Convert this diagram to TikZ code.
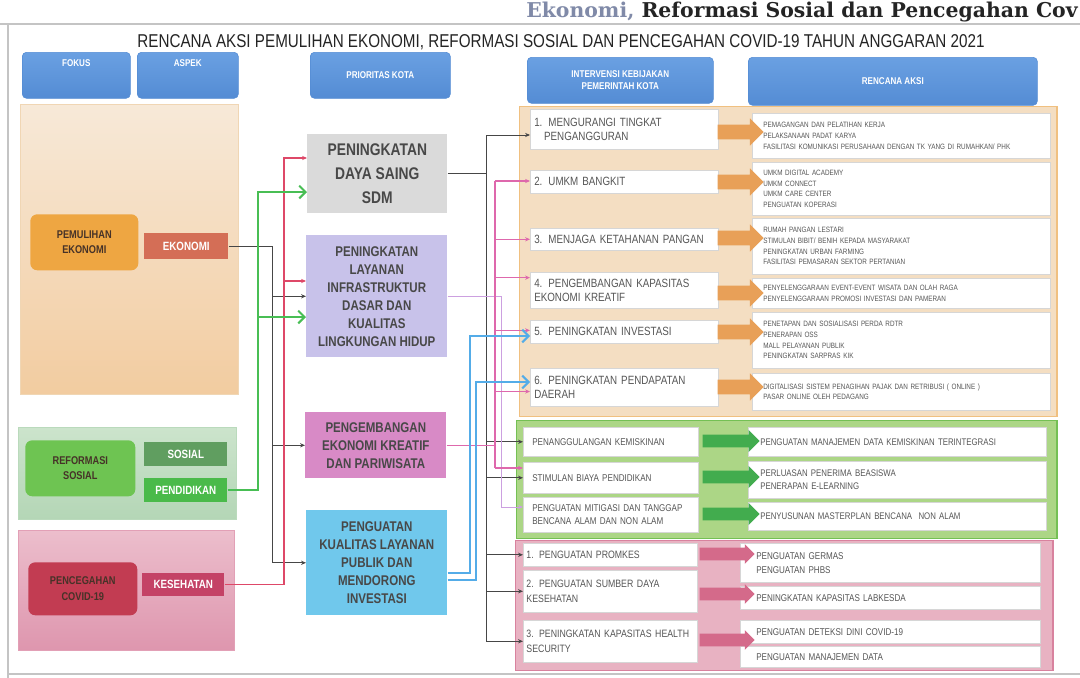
\documentclass[tikz,border=0pt]{standalone}
\usepackage{fontspec}
\setmainfont{Liberation Sans}
\newfontfamily\narrowfont[FakeStretch=0.82]{Liberation Sans}
\newfontfamily\serifhead{DejaVu Serif}
\usetikzlibrary{shapes.arrows,arrows.meta}

\definecolor{hdrBlue}{RGB}{84,140,212}
\definecolor{hdrBlueTop}{RGB}{106,160,226}
\definecolor{pemTop}{RGB}{247,233,216}
\definecolor{pemBot}{RGB}{242,204,160}
\definecolor{pemLine}{RGB}{240,214,180}
\definecolor{pemOrange}{RGB}{238,166,66}
\definecolor{ekoRed}{RGB}{212,110,86}
\definecolor{refTop}{RGB}{204,228,204}
\definecolor{refBot}{RGB}{180,214,182}
\definecolor{refLine}{RGB}{186,218,188}
\definecolor{refGreen}{RGB}{110,196,82}
\definecolor{sosGreen}{RGB}{96,158,96}
\definecolor{pendGreen}{RGB}{74,186,74}
\definecolor{covTop}{RGB}{236,190,204}
\definecolor{covBot}{RGB}{222,150,174}
\definecolor{covLine}{RGB}{226,160,182}
\definecolor{covRed}{RGB}{194,60,82}
\definecolor{kesRed}{RGB}{196,66,102}
\definecolor{fokusText}{RGB}{70,50,40}
\definecolor{p1Gray}{RGB}{218,218,218}
\definecolor{p2Lav}{RGB}{200,194,234}
\definecolor{p3Mag}{RGB}{216,138,198}
\definecolor{p4Blue}{RGB}{112,200,236}
\definecolor{prioText}{RGB}{72,72,72}
\definecolor{orgPanel}{RGB}{244,222,194}
\definecolor{orgLine}{RGB}{240,192,128}
\definecolor{orgArrow}{RGB}{232,160,88}
\definecolor{grnPanel}{RGB}{172,214,134}
\definecolor{grnLine}{RGB}{116,192,84}
\definecolor{grnArrow}{RGB}{66,172,78}
\definecolor{pnkPanel}{RGB}{232,178,194}
\definecolor{pnkLine}{RGB}{216,130,158}
\definecolor{pnkArrow}{RGB}{212,106,138}
\definecolor{boxLine}{RGB}{214,214,214}
\definecolor{itemText}{RGB}{86,86,86}
\definecolor{titleDark}{RGB}{36,36,36}
\definecolor{frameGray}{RGB}{196,196,196}
\definecolor{headFade}{RGB}{128,138,168}
\definecolor{lnGray}{RGB}{70,70,70}
\definecolor{lnGreen}{RGB}{72,190,84}
\definecolor{lnRed}{RGB}{222,72,104}
\definecolor{lnMag}{RGB}{222,104,172}
\definecolor{lnViolet}{RGB}{204,160,224}
\definecolor{lnBlue}{RGB}{84,172,232}

\tikzset{
	hdr/.style={anchor=north west, rounded corners=3pt, top color=hdrBlueTop, bottom color=hdrBlue, draw=hdrBlue, text=white, align=center, inner sep=1pt, font=\narrowfont\bfseries\fontsize{7}{8.5}\selectfont},
	panel/.style={anchor=north west, inner sep=0pt},
	fokusbox/.style={anchor=north west, rounded corners=5pt, align=center, inner sep=1pt, text=fokusText, font=\narrowfont\bfseries\fontsize{8}{11}\selectfont},
	aspekbox/.style={anchor=north west, inner sep=1pt, text=white, font=\narrowfont\bfseries\fontsize{8.5}{10}\selectfont},
	prio/.style={anchor=north west, align=center, inner sep=2pt, text=prioText, font=\narrowfont\bfseries\fontsize{10}{12.8}\selectfont},
	ibox/.style={anchor=north west, fill=white, draw=boxLine, align=left, inner ysep=1pt, text=itemText},
	oitem/.style={ibox, text width=4.5cm, inner xsep=0.1cm, font=\narrowfont\fontsize{8.5}{10.5}\selectfont},
	oplan/.style={ibox, text width=6.9cm, inner xsep=0.275cm, font=\narrowfont\fontsize{5.5}{7.6}\selectfont},
	gitem/.style={ibox, text width=3.925cm, inner xsep=0.225cm, font=\narrowfont\fontsize{7}{9}\selectfont},
	gplan/.style={ibox, text width=6.85cm, inner xsep=0.3cm, font=\narrowfont\fontsize{6.8}{9.5}\selectfont},
	pitem/.style={ibox, text width=4.19cm, inner xsep=0.08cm, font=\narrowfont\fontsize{7.6}{10.5}\selectfont},
	pplan/.style={ibox, text width=6.7cm, inner xsep=0.4cm, font=\narrowfont\fontsize{7}{10}\selectfont},
	fat/.style={single arrow, draw=none, inner xsep=0pt, fill=#1},
	oarrow/.style={fat=orgArrow, minimum height=1.15cm, inner ysep=0.175cm, single arrow head extend=0.16cm},
	garrow/.style={fat=grnArrow, minimum height=1.425cm, inner ysep=0.15cm, single arrow head extend=0.12cm},
	parrow/.style={fat=pnkArrow, minimum height=1.375cm, inner ysep=0.15cm, single arrow head extend=0.09cm},
	gline/.style={draw=lnGray, line width=0.6pt},
	gnline/.style={draw=lnGreen, line width=1.4pt},
	rdline/.style={draw=lnRed, line width=0.8pt},
	mgline/.style={draw=lnMag, line width=0.8pt},
	vlline/.style={draw=lnViolet, line width=0.7pt},
	blline/.style={draw=lnBlue, line width=1.5pt},
	bigtip/.style={-{Straight Barb[length=4.5pt,width=9pt]}}
}

\begin{document}
\begin{tikzpicture}[x=0.025cm,y=-0.025cm,>={Stealth[length=3.5pt,width=3pt]}]
	\useasboundingbox (0,0) rectangle (1080,678);
	\fill[white] (0,0) rectangle (1080,678);
	\draw[frameGray, line width=1pt] (0,24) -- (1080,24);
	\draw[frameGray, line width=1.5pt] (8,24) -- (8,678);
	\draw[frameGray, line width=1.5pt] (8,674) -- (1080,674);
	\node (judulAtas) at (1078,17) [anchor=base east, inner sep=0pt, text=titleDark, font=\serifhead\bfseries\fontsize{14.5}{16}\selectfont] {\textcolor{headFade}{Ekonomi,} Reformasi Sosial dan Pencegahan Cov};
	\node (judul) at (561,42) [text=titleDark, font=\narrowfont\fontsize{13.2}{15}\selectfont] {RENCANA AKSI PEMULIHAN EKONOMI, REFORMASI SOSIAL DAN PENCEGAHAN COVID-19 TAHUN ANGGARAN 2021};

	\node (hFokus) at (22,52) [hdr, minimum width=2.7cm, minimum height=1.15cm, text depth=18pt] {FOKUS};
	\node (hAspek) at (137,52) [hdr, minimum width=2.525cm, minimum height=1.15cm, text depth=18pt] {ASPEK};
	\node (hPrioritas) at (310,52) [hdr, minimum width=3.5cm, minimum height=1.15cm] {PRIORITAS KOTA};
	\node (hIntervensi) at (527,57) [hdr, minimum width=4.65cm, minimum height=1.15cm] {INTERVENSI KEBIJAKAN\\PEMERINTAH KOTA};
	\node (hRencana) at (748,57) [hdr, minimum width=7.225cm, minimum height=1.2cm] {RENCANA AKSI};

	\node (pnlPemulihan) at (20,104) [panel, minimum width=5.45cm, minimum height=7.25cm, top color=pemTop, bottom color=pemBot, draw=pemLine] {};
	\node (fPemulihan) at (30,214) [fokusbox, fill=pemOrange, minimum width=2.7cm, minimum height=1.4cm] {PEMULIHAN\\EKONOMI};
	\node (aEkonomi) at (144,233) [aspekbox, fill=ekoRed, minimum width=2.1cm, minimum height=0.65cm] {EKONOMI};
	\node (pnlReformasi) at (18,427) [panel, minimum width=5.45cm, minimum height=2.3cm, top color=refTop, bottom color=refBot, draw=refLine] {};
	\node (fReformasi) at (25,440) [fokusbox, fill=refGreen, minimum width=2.75cm, minimum height=1.4cm] {REFORMASI\\SOSIAL};
	\node (aSosial) at (144,442) [aspekbox, fill=sosGreen, minimum width=2.075cm, minimum height=0.6cm] {SOSIAL};
	\node (aPendidikan) at (144,478) [aspekbox, fill=pendGreen, minimum width=2.075cm, minimum height=0.6cm] {PENDIDIKAN};
	\node (pnlCovid) at (18,530) [panel, minimum width=5.4cm, minimum height=3.0cm, top color=covTop, bottom color=covBot, draw=covLine] {};
	\node (fCovid) at (28,562) [fokusbox, fill=covRed, minimum width=2.725cm, minimum height=1.325cm] {PENCEGAHAN\\COVID-19};
	\node (aKesehatan) at (142,573) [aspekbox, fill=kesRed, minimum width=2.05cm, minimum height=0.575cm] {KESEHATAN};

	\node (p1) at (307,134) [prio, fill=p1Gray, minimum width=3.5cm, minimum height=1.975cm, font=\narrowfont\bfseries\fontsize{12}{17}\selectfont] {PENINGKATAN\\DAYA SAING\\SDM};
	\node (p2) at (306,235) [prio, fill=p2Lav, minimum width=3.525cm, minimum height=3.05cm] {PENINGKATAN\\LAYANAN\\INFRASTRUKTUR\\DASAR DAN\\KUALITAS\\LINGKUNGAN HIDUP};
	\node (p3) at (305,412) [prio, fill=p3Mag, minimum width=3.525cm, minimum height=1.65cm] {PENGEMBANGAN\\EKONOMI KREATIF\\DAN PARIWISATA};
	\node (p4) at (306,510) [prio, fill=p4Blue, minimum width=3.525cm, minimum height=2.625cm] {PENGUATAN\\KUALITAS LAYANAN\\PUBLIK DAN\\MENDORONG\\INVESTASI};

	\node (pnlOranye) at (519,106) [panel, minimum width=13.425cm, minimum height=7.75cm, fill=orgPanel, draw=orgLine, line width=1pt] {};
	\node (i1) at (530,109) [oitem, minimum height=1.0cm] {1. MENGURANGI TINGKAT\\\hspace*{7pt}PENGANGGURAN};
	\node (i2) at (530,170) [oitem, minimum height=0.575cm] {2. UMKM BANGKIT};
	\node (i3) at (530,228) [oitem, minimum height=0.55cm] {3. MENJAGA KETAHANAN PANGAN};
	\node (i4) at (530,272) [oitem, minimum height=0.9cm] {4. PENGEMBANGAN KAPASITAS\\EKONOMI KREATIF};
	\node (i5) at (530,320) [oitem, minimum height=0.575cm] {5. PENINGKATAN INVESTASI};
	\node (i6) at (530,368) [oitem, minimum height=0.95cm] {6. PENINGKATAN PENDAPATAN\\DAERAH};
	\node (r1) at (752,113) [oplan, minimum height=1.125cm] {PEMAGANGAN DAN PELATIHAN KERJA\\PELAKSANAAN PADAT KARYA\\FASILITASI KOMUNIKASI PERUSAHAAN DENGAN TK YANG DI RUMAHKAN/ PHK};
	\node (r2) at (752,162) [oplan, minimum height=1.325cm] {UMKM DIGITAL ACADEMY\\UMKM CONNECT\\UMKM CARE CENTER\\PENGUATAN KOPERASI};
	\node (r3) at (752,218) [oplan, minimum height=1.4cm] {RUMAH PANGAN LESTARI\\STIMULAN BIBIT/ BENIH KEPADA MASYARAKAT\\PENINGKATAN URBAN FARMING\\FASILITASI PEMASARAN SEKTOR PERTANIAN};
	\node (r4) at (752,278) [oplan, minimum height=0.75cm] {PENYELENGGARAAN EVENT-EVENT WISATA DAN OLAH RAGA\\PENYELENGGARAAN PROMOSI INVESTASI DAN PAMERAN};
	\node (r5) at (752,312) [oplan, minimum height=1.4cm] {PENETAPAN DAN SOSIALISASI PERDA RDTR\\PENERAPAN OSS\\MALL PELAYANAN PUBLIK\\PENINGKATAN SARPRAS KIK};
	\node (r6) at (752,373) [oplan, minimum height=0.925cm] {DIGITALISASI SISTEM PENAGIHAN PAJAK DAN RETRIBUSI ( ONLINE )\\PASAR ONLINE OLEH PEDAGANG};
	\node (oa1) at (737,132) [oarrow] {};
	\node (oa2) at (737,182) [oarrow] {};
	\node (oa3) at (737,238) [oarrow] {};
	\node (oa4) at (737,293) [oarrow] {};
	\node (oa5) at (737,332) [oarrow] {};
	\node (oa6) at (737,387) [oarrow] {};

	\node (pnlHijau) at (516,420) [panel, minimum width=13.5cm, minimum height=2.95cm, fill=grnPanel, draw=grnLine, line width=1pt] {};
	\node (k1) at (523,427) [gitem, minimum height=0.725cm] {PENANGGULANGAN KEMISKINAN};
	\node (k2) at (523,462) [gitem, minimum height=0.775cm] {STIMULAN BIAYA PENDIDIKAN};
	\node (k3) at (523,497) [gitem, minimum height=0.875cm] {PENGUATAN MITIGASI DAN TANGGAP\\BENCANA ALAM DAN NON ALAM};
	\node (g1) at (748,427) [gplan, minimum height=0.725cm] {PENGUATAN MANAJEMEN DATA KEMISKINAN TERINTEGRASI};
	\node (g2) at (748,461) [gplan, minimum height=0.925cm] {PERLUASAN PENERIMA BEASISWA\\PENERAPAN E-LEARNING};
	\node (g3) at (748,502) [gplan, minimum height=0.7cm] {PENYUSUNAN MASTERPLAN BENCANA\ \ NON ALAM};
	\node (ga1) at (728,441) [garrow] {};
	\node (ga2) at (728,477) [garrow] {};
	\node (ga3) at (728,514) [garrow] {};

	\node (pnlMerah) at (515,540) [panel, minimum width=13.425cm, minimum height=3.25cm, fill=pnkPanel, draw=pnkLine, line width=1pt] {};
	\node (h1) at (523,543) [pitem, minimum height=0.575cm] {1. PENGUATAN PROMKES};
	\node (h2) at (523,570) [pitem, minimum height=1.05cm] {2. PENGUATAN SUMBER DAYA\\KESEHATAN};
	\node (h3) at (523,620) [pitem, minimum height=1.05cm] {3. PENINGKATAN KAPASITAS HEALTH\\SECURITY};
	\node (c1) at (740,543) [pplan, minimum height=0.975cm] {PENGUATAN GERMAS\\PENGUATAN PHBS};
	\node (c2) at (740,586) [pplan, minimum height=0.575cm] {PENINGKATAN KAPASITAS LABKESDA};
	\node (c3) at (740,620) [pplan, minimum height=0.575cm] {PENGUATAN DETEKSI DINI COVID-19};
	\node (c4) at (740,646) [pplan, minimum height=0.525cm] {PENGUATAN MANAJEMEN DATA};
	\node (pa1) at (724,554) [parrow] {};
	\node (pa2) at (724,594) [parrow] {};
	\node (pa3) at (724,640) [parrow] {};

	\coordinate (gTrunk) at (272,0);
	\coordinate (rdP1) at (284,158);
	\coordinate (rdP2) at (284,281);
	\coordinate (gnP1) at (258,192);
	\coordinate (gnP2) at (258,317);
	\draw[gline,->] (aEkonomi.east) -| (gTrunk |- p4.west) -- (p4.west);
	\draw[gline,->] (gTrunk |- p2.west) -- (p2.west);
	\draw[gline,->] (gTrunk |- p3.west) -- (p3.west);
	\draw[rdline,->] (aKesehatan.east) -| (rdP1) -- (rdP1 -| p1.west);
	\draw[rdline,->] (rdP2) -- (rdP2 -| p2.west);
	\draw[gnline,bigtip] (aPendidikan.east) -| (gnP1) -- (gnP1 -| p1.west);
	\draw[gnline,bigtip] (gnP2) -- (gnP2 -| p2.west);

	\coordinate (kTop) at (486,135);
	\coordinate (mTop) at (495,181);
	\coordinate (mBot) at (495,468);
	\coordinate (vDrop) at (501,507);
	\coordinate (bInv) at (470,336);
	\coordinate (bPad) at (476,382);
	\draw[gline,->] (p1.east) -| (kTop) -- (kTop -| i1.west);
	\draw[gline] (kTop) -- (kTop |- h3.west);
	\foreach \t in {k1,k2,h1,h2,h3}
		\draw[gline,->] (kTop |- \t.west) -- (\t.west);
	\draw[vlline,->] (p2.east) -| (vDrop) -- (vDrop -| k3.west);
	\draw[mgline] (p3.east) -- (p3.east -| mTop);
	\draw[mgline] (mTop) -- (mBot);
	\draw[mgline,->] (mTop) -- (mTop -| i2.west);
	\draw[mgline,->] (mTop |- i3.west) -- (i3.west);
	\draw[mgline,->] ([yshift=9pt]mTop |- i4.west) -- ([yshift=9pt]i4.west);
	\draw[mgline,->] ([yshift=1pt]mTop |- i5.west) -- ([yshift=1pt]i5.west);
	\draw[mgline,->] ([yshift=-3pt]mTop |- i6.west) -- ([yshift=-3pt]i6.west);
	\draw[mgline,->] (mBot) -- (mBot -| k2.west);
	\draw[blline,bigtip] ([yshift=-7pt]p4.east) -| (bInv) -- (bInv -| i5.west);
	\draw[blline,bigtip] ([yshift=-12pt]p4.east) -| (bPad) -- (bPad -| i6.west);
\end{tikzpicture}
\end{document}
